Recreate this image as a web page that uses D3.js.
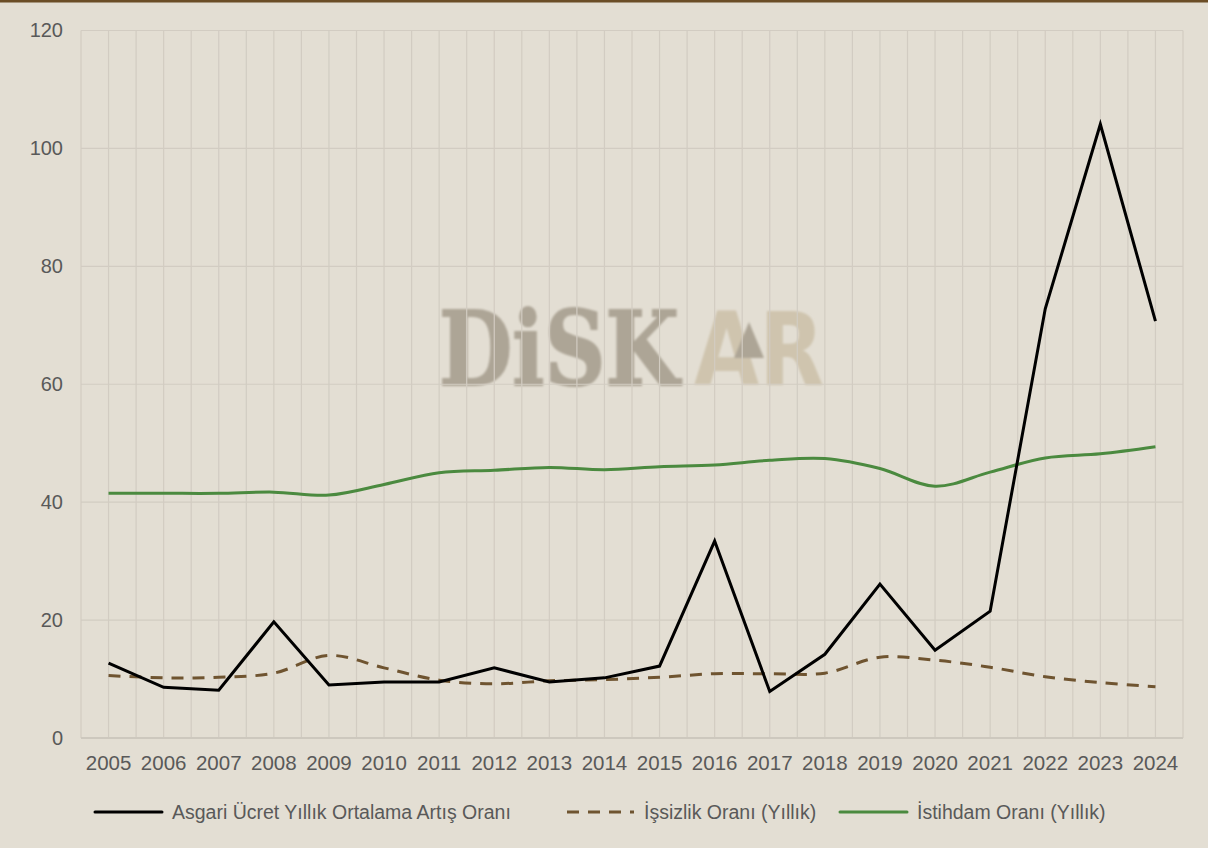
<!DOCTYPE html>
<html>
<head>
<meta charset="utf-8">
<script src="https://cdn.jsdelivr.net/npm/d3@7"></script>
<style>
  html, body { margin: 0; padding: 0; background: #e3ded3; }
  svg { display: block; }
</style>
</head>
<body>
<script>
// Yearly series (percent)
const years = ["2005","2006","2007","2008","2009","2010","2011","2012","2013","2014",
               "2015","2016","2017","2018","2019","2020","2021","2022","2023","2024"];
const minWageIncrease = [12.7, 8.6, 8.1, 19.7, 9.0, 9.5, 9.5, 11.9, 9.5, 10.2,
                         12.2, 33.4, 7.9, 14.2, 26.1, 14.9, 21.5, 72.8, 104.1, 70.7];
const unemployment = [10.6, 10.2, 10.3, 11.0, 14.0, 11.9, 9.8, 9.2, 9.7, 9.9,
                      10.3, 10.9, 10.9, 11.0, 13.7, 13.2, 12.0, 10.4, 9.4, 8.7];
const employment = [41.5, 41.5, 41.5, 41.7, 41.2, 43.0, 45.0, 45.4, 45.9, 45.5,
                    46.0, 46.3, 47.1, 47.4, 45.7, 42.7, 45.1, 47.5, 48.2, 49.4];
const yTicks = [0, 20, 40, 60, 80, 100, 120];
const seriesNames = ["Asgari Ücret Yıllık Ortalama Artış Oranı",
                     "İşsizlik Oranı (Yıllık)",
                     "İstihdam Oranı (Yıllık)"];

const W = 1208, H = 848;
const plot = { left: 81, right: 1183, top: 30.5, bottom: 738 };
const font = "'Liberation Sans', Arial, sans-serif";

const svg = d3.select("body").append("svg")
  .attr("width", W).attr("height", H);

svg.append("rect").attr("width", W).attr("height", H).attr("fill", "#e3ded3");
svg.append("rect").attr("width", W).attr("height", 2.5).attr("fill", "#6b4d26");

const x = d3.scaleBand().domain(years).range([plot.left, plot.right]).padding(0);
const y = d3.scaleLinear().domain([0, 120]).range([plot.bottom, plot.top]);
const cx = d => x(d) + x.bandwidth() / 2;

// Watermark logo: each word squeezed horizontally to its own width
const defs = svg.append("defs");
defs.append("filter").attr("id", "soft")
  .append("feGaussianBlur").attr("stdDeviation", 0.8);
const wm = svg.append("g").attr("class", "watermark").attr("filter", "url(#soft)");
function logoWord(str, x0, width, family, fill, strokeW) {
  const t = wm.append("text")
    .attr("x", 0).attr("y", 0)
    .attr("font-size", 102).attr("font-weight", "bold")
    .attr("font-family", family).attr("fill", fill)
    .attr("stroke", fill).attr("stroke-width", strokeW)
    .text(str);
  const natural = t.node().getComputedTextLength() || width;
  t.attr("transform", `translate(${x0},385) scale(${width / natural},1)`);
  return t;
}
logoWord("DiSK", 439, 240, "'DejaVu Serif', serif", "#ada596", 2);
logoWord("AR", 694, 130, "'DejaVu Sans', sans-serif", "#cfc4ae", 0);
wm.append("path")
  .attr("d", "M749,322 L734,358 L764,358 Z")
  .attr("fill", "#ada596");

// Gridlines: horizontal at major ticks, vertical at every half category
const grid = svg.append("g").attr("stroke", "#d2ccc2").attr("stroke-width", 1.2);
grid.selectAll("line.h").data(yTicks.filter(t => t > 0)).join("line")
  .attr("x1", plot.left).attr("x2", plot.right)
  .attr("y1", d => y(d)).attr("y2", d => y(d));
const vx = [];
years.forEach(yr => { vx.push(x(yr)); vx.push(cx(yr)); });
vx.push(plot.right);
grid.selectAll("line.v").data(vx).join("line")
  .attr("x1", d => d).attr("x2", d => d)
  .attr("y1", plot.top).attr("y2", plot.bottom);
svg.append("line")
  .attr("x1", plot.left).attr("x2", plot.right)
  .attr("y1", y(0)).attr("y2", y(0))
  .attr("stroke", "#cdc8be").attr("stroke-width", 2);

// Axes
const yAxis = svg.append("g")
  .attr("transform", `translate(${plot.left - 18},0)`)
  .call(d3.axisLeft(y).tickValues(yTicks).tickSize(0).tickPadding(0));
yAxis.select(".domain").remove();
yAxis.selectAll("text")
  .attr("font-family", font).attr("font-size", 20).attr("fill", "#595959");

const xAxis = svg.append("g")
  .attr("transform", `translate(0,755)`)
  .call(d3.axisBottom(x).tickSize(0).tickPadding(0));
xAxis.select(".domain").remove();
xAxis.selectAll("text")
  .attr("font-family", font).attr("font-size", 20.5).attr("fill", "#595959")
  .attr("dy", "0.72em");

// Series lines
const straight = d3.line().x((d, i) => cx(years[i])).y(d => y(d));
const smooth = d3.line().x((d, i) => cx(years[i])).y(d => y(d)).curve(d3.curveCatmullRom.alpha(0.5));

svg.append("path").datum(employment)
  .attr("d", smooth).attr("fill", "none")
  .attr("stroke", "#4b8a3f").attr("stroke-width", 3).attr("stroke-linejoin", "round");
svg.append("path").datum(unemployment)
  .attr("d", smooth).attr("fill", "none")
  .attr("stroke", "#6f5430").attr("stroke-width", 3)
  .attr("stroke-dasharray", "12,9").attr("stroke-linecap", "butt");
svg.append("path").datum(minWageIncrease)
  .attr("d", straight).attr("fill", "none")
  .attr("stroke", "#000").attr("stroke-width", 3).attr("stroke-linejoin", "miter");

// Legend
const legendItems = [
  { name: seriesNames[0], x0: 95, color: "#000", dash: null },
  { name: seriesNames[1], x0: 567, color: "#6f5430", dash: "12,9" },
  { name: seriesNames[2], x0: 840, color: "#4b8a3f", dash: null }
];
const lg = svg.append("g");
legendItems.forEach(it => {
  lg.append("line")
    .attr("x1", it.x0).attr("x2", it.x0 + 67)
    .attr("y1", 812).attr("y2", 812)
    .attr("stroke", it.color).attr("stroke-width", 3)
    .attr("stroke-linecap", it.dash ? "butt" : "round")
    .attr("stroke-dasharray", it.dash);
  lg.append("text")
    .attr("x", it.x0 + 77).attr("y", 819)
    .attr("font-family", font).attr("font-size", 19.5).attr("fill", "#595959")
    .text(it.name);
});
</script>
</body>
</html>
